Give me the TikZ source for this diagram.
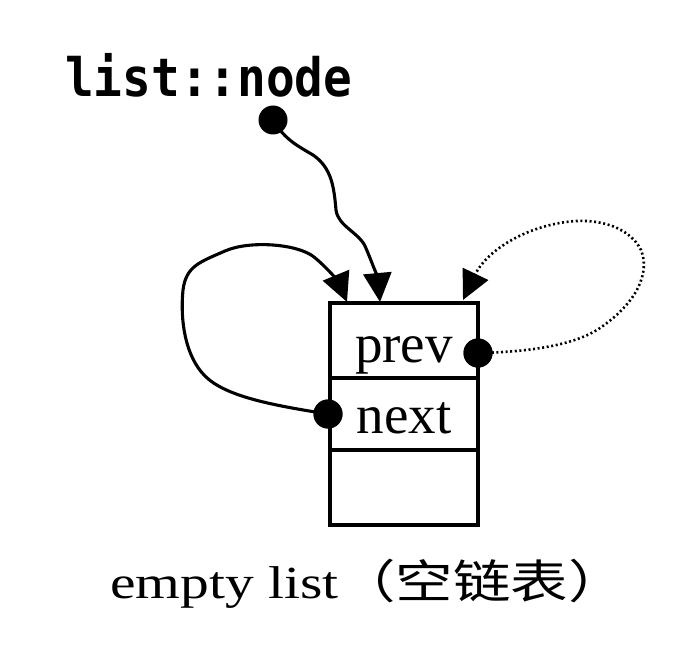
\documentclass[tikz,border=0pt]{standalone}
\usepackage{fontspec}
\usepackage{graphicx}
\setmainfont{Liberation Serif}
\newfontfamily\monob{DejaVu Sans Mono}
\newfontfamily\cjk{Noto Sans CJK SC}
\usetikzlibrary{arrows.meta}
\tikzset{
  cell/.style={draw, line width=3.4pt, minimum width=148pt, inner sep=0pt, outer sep=0pt,
     font=\fontsize{55}{60}\selectfont, text depth=0pt},
  dot/.style={circle, fill=black, inner sep=0pt, minimum size=29pt},
  ptr/.style={line width=3.1pt, -{Triangle[length=29pt,width=28pt]}},
  dptr/.style={ptr, line width=2.6pt, dash pattern=on 2pt off 2.6pt},
}
\begin{document}
\begin{tikzpicture}[x=1pt,y=-1pt]
\useasboundingbox (0,0) rectangle (692,660);
% label
\node[anchor=base west, inner sep=0pt] (lbl) at (65,97)
  {\scalebox{0.9}[1]{\monob\bfseries\fontsize{53}{56}\selectfont list::node}};
\node[dot] (topdot) at (273,120) {};
% cells
\node[cell, minimum height=75pt, text height=43pt] (prev) at (404,340.5) {prev};
\node[cell, minimum height=72pt, text height=38pt] (next) at (404,414) {next};
\node[cell, minimum height=75pt] (empty) at (404,487.5) {};
% dots on cells
\node[dot] (pdot) at ([yshift=-12.5pt]prev.east) {};
\node[dot] (ndot) at ([xshift=-2pt]next.west) {};
% arrow targets
\coordinate (t1) at ([xshift=17pt,yshift=1pt]prev.north west);
\coordinate (t2) at ([xshift=50pt,yshift=1pt]prev.north west);
\coordinate (t3) at ([xshift=133pt,yshift=3pt]prev.north west);
% list::node pointer
\draw[ptr] (topdot.center) .. controls (285,140) and (298,146) .. (313,155)
  .. controls (332,168) and (334,188) .. (336,210)
  .. controls (338,226) and (358,232) .. (365,246)
  .. controls (372,262) and (378,280) .. (t2);
% next loop
\draw[ptr] (ndot.center) .. controls (270,405) and (225,396) .. (205,376)
  .. controls (185,356) and (180,320) .. (183,290)
  .. controls (186,266) and (200,262) .. (225,251)
  .. controls (250,240) and (298,244) .. (314,257)
  .. controls (330,270) and (340,285) .. (t1);
% prev loop (dotted)
\draw[dptr] (pdot.center) .. controls (530,352) and (575,345) .. (600,328)
  .. controls (638,302) and (650,272) .. (641,250)
  .. controls (628,224) and (592,218) .. (566,222)
  .. controls (522,228) and (486,252) .. (t3);
% redraw dots on top
\node[dot] at (pdot) {};
\node[dot] at (ndot) {};
% caption
\node[anchor=base, inner sep=0pt] (cap) at (368,598)
  {\scalebox{1.25}[1]{\fontsize{46}{50}\selectfont empty list{\cjk（空链表）}}};
\end{tikzpicture}
\end{document}
